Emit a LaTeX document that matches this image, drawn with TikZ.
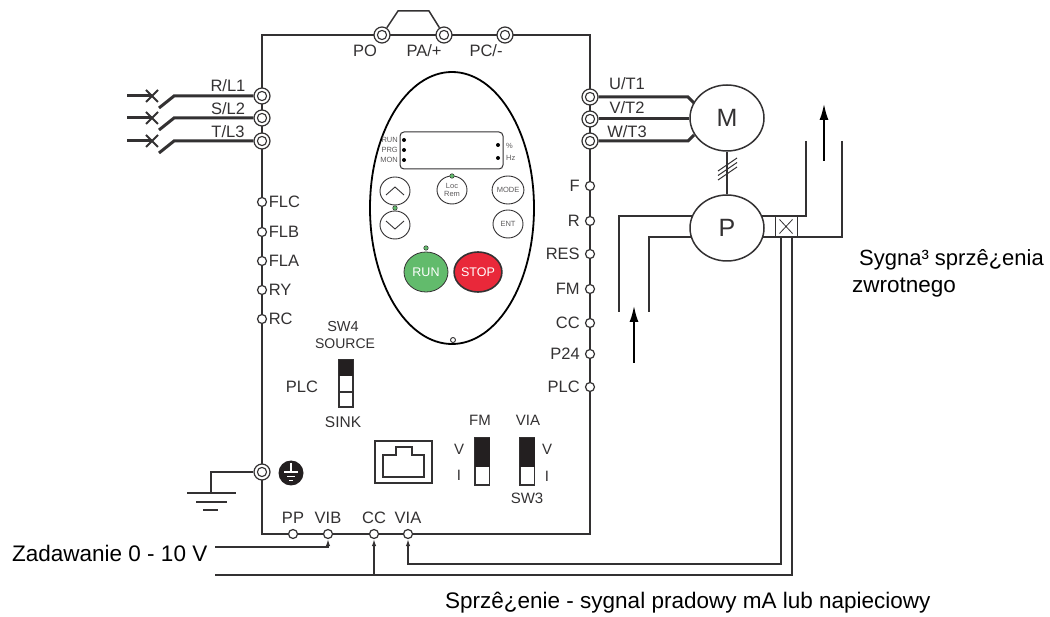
\documentclass[tikz,border=0pt]{standalone}
\usepackage{fontspec}
\setmainfont{Liberation Sans}
\usetikzlibrary{arrows.meta,positioning,shapes.geometric}
\definecolor{ink}{HTML}{333132}
\definecolor{swfill}{HTML}{231F20}
\definecolor{runcol}{HTML}{62BB6C}
\definecolor{stopcol}{HTML}{E9283A}
\tikzset{
    wire/.style={draw=ink,line width=1.5pt},
    power/.style={draw=ink,line width=3pt},
    sig/.style={wire,-{Latex[length=7pt,width=4.5pt]}},
    bigarrow/.style={draw=black,line width=2.6pt,-{Latex[length=17pt,width=9pt]}},
    lbl/.style={inner sep=0pt,text=ink,font=\fontsize{16.5}{17}\selectfont},
    biglbl/.style={inner sep=0pt,text=black,font=\fontsize{22.5}{26}\selectfont},
    tiny/.style={inner sep=0pt,text=ink!80,font=\fontsize{7.5}{8}\selectfont},
    bigterm/.style={circle,draw=ink,line width=1.2pt,fill=white,minimum size=16pt,inner sep=0pt,
        path picture={\draw[ink,line width=1.1pt] (path picture bounding box.center) circle (4.6pt);}},
    smallterm/.style={circle,draw=ink,line width=1.2pt,fill=white,minimum size=9pt,inner sep=0pt},
    machine/.style={ellipse,draw=ink,line width=1.5pt,fill=white,minimum width=74pt,minimum height=66pt,
        inner sep=0pt,text=ink,font=\fontsize{25}{25}\selectfont},
    btn/.style={ellipse,draw=ink,line width=0.9pt,minimum width=30pt,minimum height=28pt,inner sep=0pt,
        align=center,text=ink!80,font=\fontsize{7.5}{7.5}\selectfont},
    bigbtn/.style={ellipse,draw=ink,minimum width=44pt,minimum height=40pt,inner sep=0pt,
        text=white,font=\fontsize{12.5}{13}\selectfont},
    led/.style={circle,draw=ink,line width=0.5pt,fill=runcol,minimum size=4.5pt,inner sep=0pt},
    dotled/.style={circle,fill=black,minimum size=4pt,inner sep=0pt},
    swbox/.style={draw=ink,line width=1.2pt,fill=white},
}
\begin{document}
\begin{tikzpicture}[x=1pt,y=-1pt]
    \useasboundingbox (0,0) rectangle (1050,617);
    % frame
    \coordinate (tl) at (262,35);
    \coordinate (tr) at (590,35);
    \coordinate (br) at (590,534);
    \coordinate (bl) at (262,534);
    \draw[wire] (tl) -- (tr) -- (br) -- (bl) -- cycle;

    % top terminals
    \node[bigterm] (PO) at (382,35) {};
    \node[bigterm] (PA) at (444,35) {};
    \node[bigterm] (PC) at (505,35) {};
    \node[lbl] (POl) at (365,51) {PO};
    \node[lbl] (PAl) at (424,51) {PA/+};
    \node[lbl] (PCl) at (486,51) {PC/-};
    \coordinate (jA) at (398,11);
    \coordinate (jB) at (429,11);
    \draw[wire] (PO) -- (jA) -- (jB) -- (PA);

    % supply side
    \foreach \name/\y/\lab/\ly in {RL/96/R\slash L1/86, SL/118/S\slash L2/109, TL/141/T\slash L3/132}{
        \node[bigterm] (\name) at (262,\y) {};
        \node[lbl] (\name l) at (228,\ly) {\lab};
        \coordinate (\name in) at (127,\y);
        \coordinate (\name sw) at (174,\y);
        \coordinate (\name x) at (152,\y);
        \draw[power] (\name in) -- (\name x);
        \draw[power] (\name) -- (\name sw) -- +(-15,12);
        \draw[wire,line width=2pt] (\name x) +(-6,-6) -- +(6,6) +(-6,6) -- +(6,-6);
    }

    % motor and pump
    \node[machine] (M) at (727,118) {M};
    \node[machine] (P) at (727,228) {P};
    \foreach \name/\y/\lab/\ly in {UT/97/U\slash T1/84, VT/119/V\slash T2/108, WT/141/W\slash T3/132}{
        \node[bigterm] (\name) at (590,\y) {};
        \node[lbl] (\name l) at (627,\ly) {\lab};
    }
    \draw[power] (UT) -- (688,97) -- (694,103);
    \draw[power] (VT) -- (VT -| M.west);
    \draw[power] (WT) -- (688,141) -- (694,135);
    \draw[wire] (M) -- (P);
    \foreach \dy in {0,4.5,9}
        \draw[ink,line width=1pt] (718,171+\dy) -- (737,158+\dy);

    % pipes
    \coordinate (inA) at (619,312);
    \coordinate (inB) at (649,312);
    \coordinate (outA) at (806,141);
    \coordinate (outB) at (842,141);
    \node[draw=ink,line width=0.8pt,minimum width=22pt,minimum height=21pt,inner sep=0pt] (sens) at (786,226.5) {};
    \draw[wire,line width=1.8pt] (inA) |- (P.161);
    \draw[wire,line width=1.8pt] (inB) |- (P.194);
    \draw[wire,line width=1.8pt] (outA) |- (P.19);
    \draw[wire,line width=1.8pt] (outB) |- (P.-14);
    \draw[ink,line width=0.8pt] (sens) +(-6.5,-7) -- +(6.5,7) +(-6.5,7) -- +(6.5,-7);
    \coordinate (flowAs) at (634,363);
    \coordinate (flowAe) at (634,305);
    \coordinate (flowBs) at (824,161);
    \coordinate (flowBe) at (824,103);
    \draw[bigarrow] (flowAs) -- (flowAe);
    \draw[bigarrow] (flowBs) -- (flowBe);

    % left control terminals
    \foreach \t/\y in {FLC/202,FLB/232,FLA/261,RY/290,RC/319}{
        \node[smallterm] (L\t) at (262,\y) {};
        \node[lbl,right=1.5pt of L\t] (L\t l) {\t};
    }
    % right control terminals
    \foreach \t/\y in {F/186,R/221,RES/254,FM/289,CC/323,P24/354,PLC/387}{
        \node[smallterm] (R\t) at (590,\y) {};
        \node[lbl,left=5pt of R\t] (R\t l) {\t};
    }
    % bottom terminals
    \foreach \t/\x in {PP/293,VIB/328,CC/374,VIA/408}{
        \node[smallterm] (B\t) at (\x,534) {};
        \node[lbl,above=5.5pt of B\t] (B\t l) {\t};
    }

    % keypad
    \node[ellipse,draw=black,line width=1.8pt,minimum width=164pt,minimum height=272pt,inner sep=0pt] (pad) at (452,208) {};
    \node[smallterm,minimum size=5pt,line width=0.9pt] (padhole) at (453,340) {};
    \node[draw=ink,line width=1pt,rounded corners=4pt,minimum width=103pt,minimum height=37pt,inner sep=0pt] (disp) at (451.5,150.5) {};
    \foreach \t/\y in {RUN/140,PRG/150,MON/160}{
        \node[dotled] (d\t) at (404,\y) {};
        \node[tiny,anchor=east] (l\t) at (398,\y) {\t};
    }
    \node[dotled] (dpc) at (498,145) {};
    \node[dotled] (dhz) at (498,158) {};
    \node[tiny,anchor=west] (lpc) at (506,146) {\%};
    \node[tiny,anchor=west] (lhz) at (506,158) {Hz};
    \node[btn] (up) at (395,191) {};
    \node[btn] (down) at (395,225) {};
    \node[btn] (loc) at (452,190) {Loc\\[1pt]Rem};
    \node[btn] (mode) at (508,190) {MODE};
    \node[btn] (ent) at (508,224) {ENT};
    \draw[ink,line width=0.9pt] (up) +(-9,4) -- +(0,-4) -- +(9,4);
    \draw[ink,line width=0.9pt] (down) +(-9,-4) -- +(0,4) -- +(9,-4);
    \node[led] (ledloc) at (452,176) {};
    \node[led] (leddir) at (395,208) {};
    \node[led] (ledrun) at (426,248) {};
    \node[bigbtn,fill=runcol,line width=0.8pt] (run) at (426,272) {RUN};
    \node[bigbtn,fill=stopcol,line width=1.6pt] (stop) at (478,272) {STOP};

    % SW4
    \node[lbl,font=\fontsize{14.5}{15}\selectfont] (sw4) at (343,327) {SW4};
    \node[lbl,font=\fontsize{14}{15}\selectfont] (source) at (345,344) {SOURCE};
    \node[lbl] (plc) at (302,387) {PLC};
    \node[lbl,font=\fontsize{15.5}{16}\selectfont] (sink) at (343,422) {SINK};
    \draw[swbox] (339,360) rectangle (353,407);
    \fill[swfill] (339,360) rectangle (353,376);
    \draw[ink,line width=1.2pt] (339,392) -- (353,392);

    % FM, VIA switches
    \foreach \x in {475,520}{
        \draw[swbox] (\x,438) rectangle (\x+14.5,485);
        \fill[swfill] (\x,438) rectangle (\x+14.5,467);
    }
    \node[lbl,font=\fontsize{15}{15}\selectfont] (fm) at (480,420) {FM};
    \node[lbl,font=\fontsize{15}{15}\selectfont] (via) at (528,420) {VIA};
    \node[lbl,font=\fontsize{15}{15}\selectfont] (vl) at (459,449) {V};
    \node[lbl,font=\fontsize{15}{15}\selectfont] (il) at (459,475) {I};
    \node[lbl,font=\fontsize{15}{15}\selectfont] (vr) at (547,449) {V};
    \node[lbl,font=\fontsize{15}{15}\selectfont] (ir) at (547,476) {I};
    \node[lbl,font=\fontsize{15}{15}\selectfont] (sw3) at (527,498) {SW3};

    % network socket
    \draw[draw=ink,line width=1.2pt] (375,441) rectangle (432,483);
    \draw[draw=ink,line width=1.2pt] (383,477) -- (383,455) -- (396,455) -- (396,447) -- (412,447)
        -- (412,455) -- (424,455) -- (424,477) -- cycle;

    % earth
    \node[bigterm] (GND) at (262,472) {};
    \coordinate (gnd) at (211,493);
    \draw[wire] (GND) -| (gnd);
    \draw[wire] (gnd) +(-24,0) -- +(25,0);
    \draw[wire] (196,502) -- (227,502);
    \draw[wire] (203,510) -- (218,510);
    \node[circle,fill=swfill,minimum size=25pt,inner sep=0pt] (pe) at (291,473) {};
    \draw[white,line width=1.2pt] (291,463) -- (291,472) (284,472) -- (298,472);
    \draw[white,line width=1.2pt] (287,476.5) -- (295,476.5) (289,480.5) -- (293,480.5);

    % signal wires
    \coordinate (zad) at (215,547);
    \coordinate (fbk) at (215,575);
    \coordinate (tapA) at (781,237);
    \coordinate (tapB) at (792,237);
    \draw[sig] (zad) -| (BVIB);
    \draw[wire] (fbk) -| (tapB);
    \draw[sig] (fbk -| BCC) -- (BCC);
    \draw[sig] (tapA) |- (408,564) -- (BVIA);

    % texts
    \node[biglbl,anchor=west] (zadl) at (12,553.5) {Zadawanie 0 - 10 V};
    \node[biglbl,anchor=west,font=\fontsize{22}{26}\selectfont] (fbk1) at (859,260) {Sygna³ sprzê¿enia};
    \node[biglbl,anchor=west] (fbk2) at (852,288) {zwrotnego};
    \node[biglbl,anchor=west] (fbk3) at (445,603) {Sprzê¿enie - sygnal pradowy mA lub napieciowy};
\end{tikzpicture}
\end{document}
